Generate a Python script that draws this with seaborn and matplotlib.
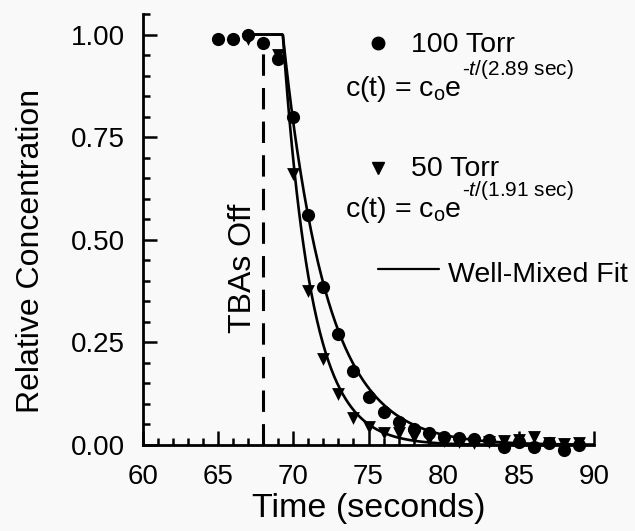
import numpy as np
import pandas as pd
import matplotlib
matplotlib.use("Agg")
import matplotlib.pyplot as plt
import seaborn as sns
from matplotlib.ticker import MultipleLocator

# ---- data ----
t100 = [65, 66, 67, 68, 69, 70, 71, 72, 73, 74, 75, 76, 77, 78, 79, 80, 81, 82, 83, 84, 85, 86, 87, 88, 89]
c100 = [0.99, 0.99, 1.00, 0.98, 0.94, 0.80, 0.56, 0.385, 0.27, 0.18, 0.117, 0.08, 0.057, 0.04, 0.03,
        0.02, 0.017, 0.015, 0.012, -0.006, 0.008, -0.006, 0.005, -0.012, 0.0]
t50 = [67, 69, 70, 71, 72, 73, 74, 75, 76, 77, 78, 79, 80, 81, 82, 83, 84, 85, 86, 87, 88, 89]
c50 = [0.99, 0.95, 0.66, 0.375, 0.21, 0.125, 0.065, 0.045, 0.03, 0.03, 0.02, 0.015, 0.01, 0.008,
       0.005, 0.008, 0.01, 0.012, 0.02, 0.005, 0.003, 0.005]
tau100 = 2.89   # sec
tau50 = 1.91    # sec
t_off_fit = 69.3
t_fit_start = 67.0
t_fit_end = 90.0
tbas_off = 68
xticks = [60, 65, 70, 75, 80, 85, 90]
yticks = [0.00, 0.25, 0.50, 0.75, 1.00]

# fit curves c(t) = c0 exp(-(t - t_off)/tau)
tf = np.linspace(t_fit_start, t_fit_end, 600)
fit100 = np.where(tf < t_off_fit, 1.0, np.exp(-(tf - t_off_fit) / tau100))
fit50 = np.where(tf < t_off_fit, 1.0, np.exp(-(tf - t_off_fit) / tau50))

d100 = pd.DataFrame({"t": t100, "c": c100})
d50 = pd.DataFrame({"t": t50, "c": c50})
f100 = pd.DataFrame({"t": tf, "c": fit100})
f50 = pd.DataFrame({"t": tf, "c": fit50})

sns.set_theme(style="ticks")
plt.rcParams["font.family"] = ["Liberation Sans", "DejaVu Sans"]
plt.rcParams["mathtext.fontset"] = "custom"
plt.rcParams["mathtext.rm"] = "Liberation Sans"
plt.rcParams["mathtext.it"] = "Liberation Sans:italic"
plt.rcParams["mathtext.default"] = "regular"
plt.rcParams["text.color"] = "black"
plt.rcParams["axes.labelcolor"] = "black"
plt.rcParams["xtick.color"] = "black"
plt.rcParams["ytick.color"] = "black"

bg = "#f9f9f9"
fig = plt.figure(figsize=(6.35, 5.31), dpi=100, facecolor=bg)
ax = fig.add_axes([143 / 635, 1 - 445 / 531, (594 - 143) / 635, (445 - 14) / 531])
ax.set_facecolor(bg)

lw = 1.9
sns.lineplot(data=f100, x="t", y="c", ax=ax, color="black", lw=lw, estimator=None, sort=False)
sns.lineplot(data=f50, x="t", y="c", ax=ax, color="black", lw=lw, estimator=None, sort=False)
sns.scatterplot(data=d50, x="t", y="c", ax=ax, marker="v", s=85, color="black", edgecolor="black",
                linewidth=0, clip_on=False, zorder=4)
sns.scatterplot(data=d100, x="t", y="c", ax=ax, marker="o", s=90, color="black", edgecolor="black",
                linewidth=0, clip_on=False, zorder=5)

# TBAs off dashed line
ax.plot([tbas_off, tbas_off], [0, 0.96], color="black", lw=2.2, ls=(0, (7, 4)))
ax.text(66.65, 0.43, "TBAs Off", rotation=90, ha="center", va="center", fontsize=23)

ax.set_xlim(60, 90)
ax.set_ylim(0, 1.05)
ax.set_xticks(xticks)
ax.set_yticks(yticks)
ax.set_yticklabels([f"{v:.2f}" for v in yticks])
ax.xaxis.set_minor_locator(MultipleLocator(1))
ax.yaxis.set_minor_locator(MultipleLocator(0.05))
ax.tick_params(which="both", direction="in", color="black", width=1.8)
ax.tick_params(which="major", length=10, labelsize=20)
ax.tick_params(which="minor", length=5)
ax.tick_params(axis="x", which="major", pad=14)
ax.tick_params(axis="y", which="major", pad=13)
for s in ["top", "right"]:
    ax.spines[s].set_visible(False)
for s in ["left", "bottom"]:
    ax.spines[s].set_linewidth(2)
    ax.spines[s].set_color("black")

ax.set_xlabel("Time (seconds)", fontsize=24.5, labelpad=2)
ax.set_ylabel("Relative Concentration", fontsize=23)
ax.yaxis.set_label_coords(-0.214, 0.45)

# legend / annotations
fs = 20.5
ax.plot([75.6], [0.98], "o", color="black", ms=9, clip_on=False)
ax.text(77.8, 0.958, "100 Torr", fontsize=fs, va="baseline", ha="left")
e1 = ax.text(73.45, 0.85, r"c(t) = c$_{o}$e", fontsize=fs, va="baseline", ha="left")
ax.annotate(r"-$\mathit{t}$/(2.89 sec)", xy=(1, 1), xycoords=e1, xytext=(0, 11.5),
            textcoords="offset points", fontsize=15, va="top", ha="left")
ax.plot([75.6], [0.674], "v", color="black", ms=8, clip_on=False)
ax.text(77.8, 0.655, "50 Torr", fontsize=fs, va="baseline", ha="left")
e2 = ax.text(73.45, 0.556, r"c(t) = c$_{o}$e", fontsize=fs, va="baseline", ha="left")
ax.annotate(r"-$\mathit{t}$/(1.91 sec)", xy=(1, 1), xycoords=e2, xytext=(0, 11.5),
            textcoords="offset points", fontsize=15, va="top", ha="left")
ax.plot([75.6, 79.7], [0.428, 0.428], color="black", lw=1.6, clip_on=False)
ax.text(80.3, 0.397, "Well-Mixed Fit", fontsize=fs, va="baseline", ha="left", clip_on=False)

fig.savefig("out.png", dpi=100, facecolor=bg)
